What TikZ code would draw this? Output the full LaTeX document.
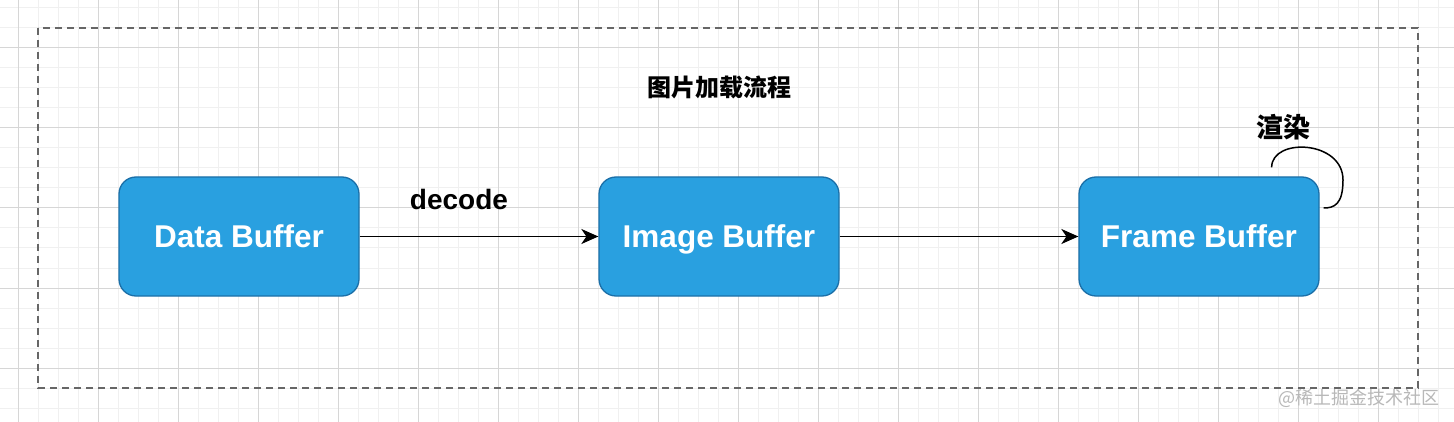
\documentclass[tikz,border=0pt]{standalone}
\usepackage{fontspec}
\setmainfont{Liberation Sans}
\newfontfamily\cjk{Noto Sans CJK SC}
\usetikzlibrary{positioning,arrows.meta}
\definecolor{boxfill}{HTML}{29A0E0}
\definecolor{boxline}{HTML}{1B6FA8}
\definecolor{gridminor}{HTML}{F0F0F0}
\definecolor{gridmajor}{HTML}{D6D6D6}
\tikzset{buffer/.style={draw=boxline,fill=boxfill,rounded corners=17pt,line width=1.3pt,
    minimum width=240pt,minimum height=119pt,text=white,text height=22pt,text depth=0pt,
    font=\fontsize{31.5}{31.5}\selectfont\bfseries},
  flow/.style={-{Stealth[length=17pt,width=15pt,inset=5pt]},line width=1.8pt},
  label/.style={font=\fontsize{24}{24}\selectfont\bfseries}}

\begin{document}
\begin{tikzpicture}[x=1pt,y=-1pt]
\useasboundingbox (0,0) rectangle (1454,422);
\fill[white] (0,0) rectangle (1454,422);
% grid
\foreach \gx in {18,38,...,1454} \draw[gridminor,line width=1pt] (\gx,0) -- (\gx,422);
\foreach \gy in {8,28,...,422} \draw[gridminor,line width=1pt] (0,\gy) -- (1454,\gy);
\foreach \gx in {18,98,...,1454} \draw[gridmajor,line width=1pt] (\gx,0) -- (\gx,422);
\foreach \gy in {48,128,...,422} \draw[gridmajor,line width=1pt] (0,\gy) -- (1454,\gy);
% frame
\draw[black!60,line width=1.6pt,dash pattern=on 7pt off 5pt] (38,28) rectangle (1418,388);
\node[label] (title) at (719,87) {\cjk\bfseries 图片加载流程};
% buffers
\node[buffer] (data) at (239,236.5) {Data Buffer};
\node[buffer] (image) at (719,236.5) {Image Buffer};
\node[buffer] (frame) at (1199,236.5) {Frame Buffer};
\draw[flow] (data) -- (image);
\draw[flow] (image) -- (frame);
\node[label,font=\fontsize{28}{28}\selectfont\bfseries] (decode) at (459,199) {decode};
% render loop
\coordinate[xshift=-48pt,yshift=9pt] (loopa) at (frame.north east);
\coordinate[xshift=4pt,yshift=28.5pt] (loopb) at (frame.east);
\draw[line width=1.5pt] (loopa) .. controls +(0,-30) and +(0,-40) .. (1343,180)
  .. controls +(0,25) and +(10,0) .. (loopb);
\node[label,font=\fontsize{27}{27}\selectfont] (render) at (1283,127) {\cjk\bfseries 渲染};
% watermark
\node[text=black!28,font=\fontsize{18}{18}\selectfont] (mark) at (1359,398) {\cjk @稀土掘金技术社区};
\end{tikzpicture}
\end{document}
